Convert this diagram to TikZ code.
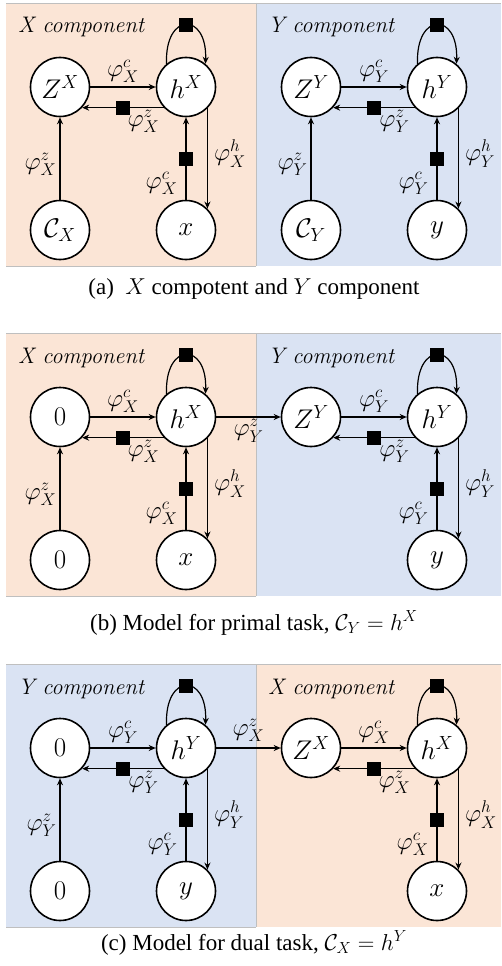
\RequirePackage{fix-cm}
\documentclass[tikz,border=0pt]{standalone}
\usepackage{fontspec}
\newfontfamily\capfont{Liberation Serif}
\usetikzlibrary{arrows.meta}
\DeclareMathSizes{25}{25}{17}{13}
\DeclareMathSizes{27}{27}{19}{14}
\definecolor{orangebg}{HTML}{FBE5D6}
\definecolor{bluebg}{HTML}{DAE3F3}
\definecolor{edgegray}{HTML}{BFBFBF}
\tikzset{
  nd/.style={circle, draw, line width=1.6pt, fill=white, minimum size=59pt, inner sep=0pt, font=\fontsize{27}{30}\selectfont},
  lab/.style={inner sep=0pt, font=\fontsize{25}{28}\selectfont},
  arr/.style={line width=1.2pt, -{Stealth[length=7pt,width=6pt]}},
  sq/.style={fill=black, draw=none, minimum size=14pt, inner sep=0pt},
  ctitle/.style={anchor=base west, inner sep=0pt, font=\fontsize{22.5}{26}\selectfont\itshape},
  captext/.style={inner sep=0pt, font=\capfont\fontsize{23}{28}\selectfont},
  border/.style={draw=edgegray, line width=0.8pt},
}
% #1 prefix, #2 Z column x, #3 row y, #4 letter, #5 Z text, #6 bottom-right text
\newcommand\corecomp[6]{%
  \node[nd] (#1Z) at (#2,#3) {$#5$};
  \node[nd] (#1h) at (#2+126,#3) {$h^{#4}$};
  \node[nd] (#1b) at (#2+126,#3+143) {$#6$};
  \draw[arr] (#1Z) -- node[lab,above=4pt] (#1lc) {$\varphi_{#4}^{c}$} (#1h);
  \draw[arr] (#1h.223) -- node[sq,pos=0.5] (#1sa) {} node[lab,below=2pt,pos=0.25] (#1lz) {$\varphi_{#4}^{z}$} (#1Z.317);
  \draw[arr] (#1h.130) .. controls +(-2,-52) and +(2,-52) .. node[sq,pos=0.5] (#1sb) {} (#1h.50);
  \draw[arr] (#1b) -- node[sq,pos=0.5] (#1sc) {} node[lab,pos=0.2,left=8pt] (#1lcb) {$\varphi_{#4}^{c}$} (#1h);
  \draw[arr] (#1h.315) -- node[lab,pos=0.45,right=6pt] (#1lh) {$\varphi_{#4}^{h}$} (#1b.45);
}
% #1 prefix, #2 Z column x, #3 row y, #4 text, #5 letter
\newcommand\inputnode[5]{%
  \node[nd] (#1C) at (#2,#3+143) {$#4$};
  \draw[arr] (#1C) -- node[lab,pos=0.43,left=3pt] (#1lzc) {$\varphi_{#5}^{z}$} (#1Z);
}
% #1 top y, #2 left colour, #3 right colour
\newcommand\panelbg[3]{%
  \fill[#2] (6,#1) rectangle (256,#1+263);
  \fill[#3] (256,#1) rectangle (501,#1+263);
  \draw[border] (6,#1) -- (501,#1);
  \draw[border] (6,#1+263) -- (256,#1+263);
  \draw[border] (256,#1) -- (256,#1+263);
}
\begin{document}
\begin{tikzpicture}[x=1pt,y=-1pt]
\useasboundingbox[fill=white] (0,0) rectangle (501,966);
% ---------- (a)
\panelbg{3}{orangebg}{bluebg}
\node[ctitle] (tXa) at (18,33) {X component};
\node[ctitle] (tYa) at (268,33) {Y component};
\corecomp{aX}{60}{87}{X}{Z^X}{x}
\inputnode{aX}{60}{87}{\mathcal{C}_X}{X}
\corecomp{aY}{311}{87}{Y}{Z^Y}{y}
\inputnode{aY}{311}{87}{\mathcal{C}_Y}{Y}
\node[captext] (capa) at (254,289) {(a)\ \ $X$ compotent and $Y$ component};
% ---------- (b)
\panelbg{333}{orangebg}{bluebg}
\node[ctitle] (tXb) at (18,363) {X component};
\node[ctitle] (tYb) at (268,363) {Y component};
\corecomp{bX}{60}{417}{X}{0}{x}
\inputnode{bX}{60}{417}{0}{X}
\corecomp{bY}{311}{417}{Y}{Z^Y}{y}
\draw[arr] (bXh) -- node[lab,below=2pt] (blink) {$\varphi_{Y}^{z}$} (bYZ);
\node[captext] (capb) at (254,623) {(b) Model for primal task, $\mathcal{C}_Y = h^X$};
% ---------- (c)
\panelbg{664}{bluebg}{orangebg}
\node[ctitle] (tYc) at (18,694) {Y component};
\node[ctitle] (tXc) at (268,694) {X component};
\corecomp{cY}{60}{748}{Y}{0}{y}
\inputnode{cY}{60}{748}{0}{Y}
\corecomp{cX}{311}{748}{X}{Z^X}{x}
\draw[arr] (cYh) -- node[lab,above=6pt] (clink) {$\varphi_{X}^{z}$} (cXZ);
\node[captext] (capc) at (254,943) {(c) Model for dual task, $\mathcal{C}_X = h^Y$};
\end{tikzpicture}
\end{document}
